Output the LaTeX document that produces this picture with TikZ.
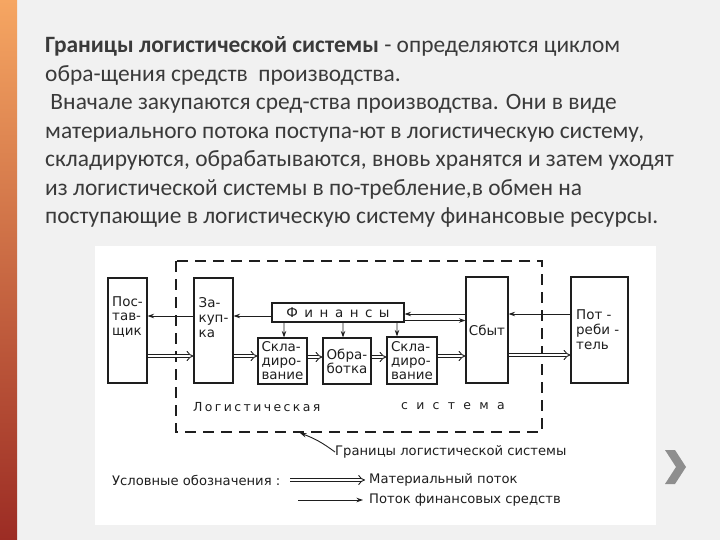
\documentclass[tikz,border=0pt]{standalone}
\usepackage{fontspec}
\setmainfont{Carlito}
\newfontfamily\dfont{DejaVu Sans}
\usetikzlibrary{arrows.meta}
\definecolor{txt}{HTML}{3A3A3A}
\definecolor{ink}{HTML}{1E1E1E}
\definecolor{bgc}{HTML}{F1F1F1}
\definecolor{chev}{HTML}{8E8E8E}
\definecolor{orTop}{HTML}{F6A662}
\definecolor{orMid}{HTML}{F27A1C}
\definecolor{orBot}{HTML}{9C2C24}
\newcommand\gapA{\hspace{2.4bp}}
\newcommand\gapB{\hspace{8.3bp}}
\newcommand\gapC{\hspace{6.5bp}}
\begin{document}
\begin{tikzpicture}[x=1bp,y=-1bp,
  para/.style={anchor=base west, inner sep=0, text=txt, font=\fontsize{23.5}{27}\selectfont},
  box/.style={draw=ink, line width=1.1bp, inner sep=0, font=\dfont\fontsize{13.5}{14}\selectfont, text=ink},
  lbl/.style={inner sep=0, font=\dfont\fontsize{13.5}{15}\selectfont, text=ink},
  lgd/.style={inner sep=0, anchor=west, font=\dfont\fontsize{13.2}{15}\selectfont, text=ink},
  lgs/.style={inner sep=0, anchor=west, font=\dfont\fontsize{12.5}{15}\selectfont, text=ink},
  fa/.style={draw=ink, line width=0.9bp, -{Stealth[length=6.5bp, width=4.5bp]}},
  mat/.style={draw=ink, double=white, double distance=2.6bp, line width=0.9bp, -{Implies}},
  bound/.style={draw=ink, line width=1.1bp, dash pattern=on 11bp off 7bp}]
\useasboundingbox (0,0) rectangle (720,540);
\fill[bgc] (0,0) rectangle (720,540);
\shade[top color=orTop, middle color=orMid, bottom color=orBot] (0,0) rectangle (17,540);
\fill[white] (95,246) rectangle (656,525);
% chevron
\fill[chev] (665,450) -- (675,450) -- (686,467) -- (675,484) -- (665,484) -- (676,467) -- cycle;

% paragraph
\node[para] (p1) at (45,53) {\textbf{Границы логистической системы} - определяются циклом};
\node[para] (p2) at (45,81.5) {обра-щения средств\ \ производства.};
\node[para] (p3) at (45,110) {\ Вначале закупаются сред-ства производства. Они в виде};
\node[para] (p4) at (45,138.5) {материального потока поступа-ют в логистическую систему,};
\node[para] (p5) at (45,167) {складируются, обрабатываются, вновь хранятся и затем уходят};
\node[para] (p6) at (45,195.5) {из логистической системы в по-требление,в обмен на};
\node[para] (p7) at (45,224) {поступающие в логистическую систему финансовые ресурсы.};

% boundary
\draw[bound] (176,261) rectangle (542,432);
\coordinate (bnd) at (300,433);

% boxes
\node[box, minimum width=39bp, minimum height=105bp] (post) at (127.5,330.5) {};
\node[box, minimum width=39bp, minimum height=105bp] (zak) at (213.5,330.5) {};
\node[box, minimum width=132bp, minimum height=19bp] (fin) at (338,312.5) {Ф\gapC и\gapC н\gapC а\gapC н\gapC с\gapC ы};
\node[box, minimum width=49bp, minimum height=46bp, align=left] (skl1) at (282.5,361) {Скла-\\диро-\\вание};
\node[box, minimum width=48bp, minimum height=46bp, align=left] (obr) at (347,361) {Обра-\\ботка};
\node[box, minimum width=50bp, minimum height=47bp, align=left] (skl2) at (412,360.5) {Скла-\\диро-\\вание};
\node[box, minimum width=42bp, minimum height=106bp] (sbyt) at (487,330) {Сбыт};
\node[box, minimum width=57bp, minimum height=106bp] (potr) at (599.5,330) {};

\node[lbl, align=left] (postT) at (127.5,317) {Пос-\\тав-\\щик};
\node[lbl, align=left] (zakT) at (213.5,318) {За-\\куп-\\ка};
\node[lbl, align=left, anchor=west] (potrT) at (576,330) {Пот -\\реби -\\тель};

\node[lgs] (logA) at (193,407) {Л\gapA о\gapA г\gapA и\gapA с\gapA т\gapA и\gapA ч\gapA е\gapA с\gapA к\gapA а\gapA я};
\node[lgs] (logB) at (401,406) {с\gapB и\gapB с\gapB т\gapB е\gapB м\gapB а};

% financial flows
\draw[fa] (fin.west |- 0,316) -- (zak.east |- 0,316);
\draw[fa] (zak.west |- 0,316) -- (post.east |- 0,316);
\draw[fa] (potr.west |- 0,314) -- (sbyt.east |- 0,314);
\draw[fa] (sbyt.west |- 0,314) -- (fin.east |- 0,314);
\draw[fa] (fin.east |- 0,320.5) -- (sbyt.west |- 0,320.5);
\draw[fa] (fin.south -| skl1.north) ++(1.5,0) -- ([xshift=1.5bp]skl1.north);
\draw[fa] (fin.south -| obr.north) ++(-4,0) -- ([xshift=-4bp]obr.north);
\draw[fa] (fin.south -| skl2.north) ++(-15,0) -- ([xshift=-15bp]skl2.north);

% material flows
\draw[mat] (post.east |- 0,356) -- (zak.west |- 0,356);
\draw[mat] (zak.east |- 0,356) -- (skl1.west |- 0,356);
\draw[mat] (skl1.east |- 0,357) -- (obr.west |- 0,357);
\draw[mat] (obr.east |- 0,357) -- (skl2.west |- 0,357);
\draw[mat] (skl2.east |- 0,356) -- (sbyt.west |- 0,356);
\draw[mat] (sbyt.east |- 0,355) -- (potr.west |- 0,355);

% boundary label
\node[lgd] (gr) at (335,452) {Границы логистической системы};
\draw[fa] (gr.west) to[bend right=8] (bnd);

% legend
\node[lgd] (leg) at (112,480) {Условные обозначения :};
\node[lgd] (lm) at (369,480) {Материальный поток};
\node[lgd] (lf) at (369,500) {Поток финансовых средств};
\coordinate (ma) at (290,480);
\coordinate (fa0) at (298,500);
\draw[mat] (ma) -- ([xshift=-4bp]lm.west);
\draw[fa] (fa0) -- ([xshift=-6bp]lf.west);
\end{tikzpicture}
\end{document}
